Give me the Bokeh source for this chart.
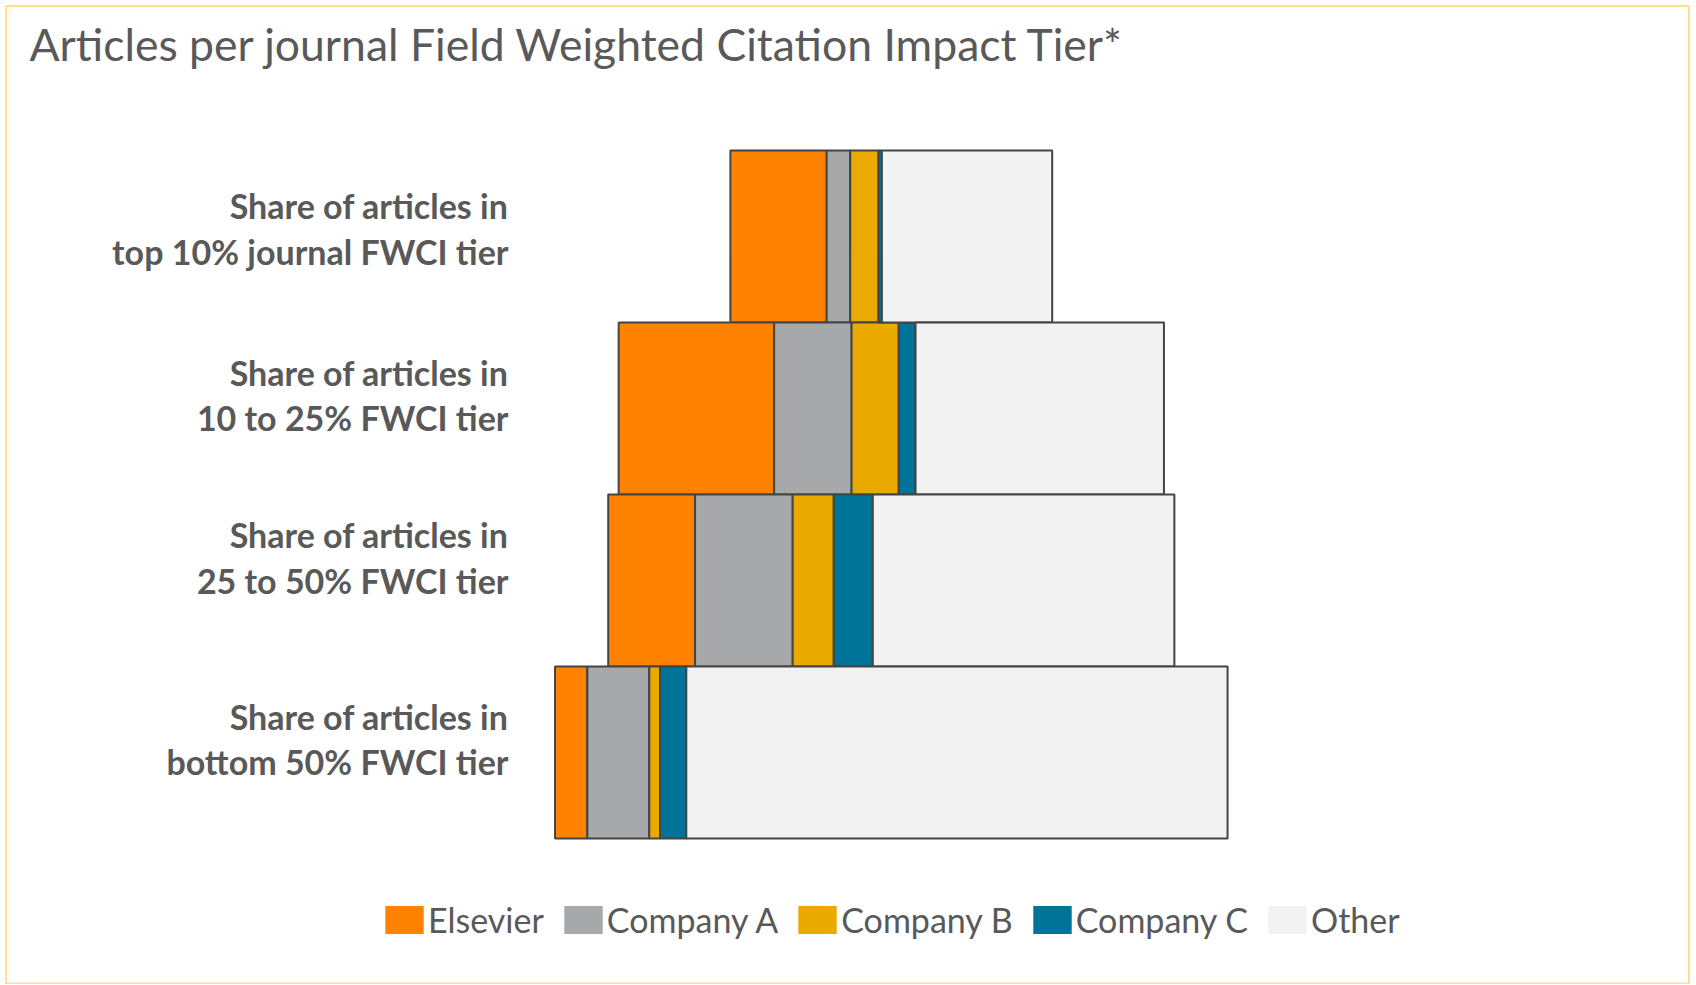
from bokeh.plotting import figure
from bokeh.models import Range1d, ColumnDataSource, Legend, LegendItem, Label, BoxAnnotation
from bokeh.core.properties import value
from bokeh.embed import file_html
from bokeh.resources import INLINE

# ---------------- data (relative article counts; bottom tier total = 100) -------------
categories = [
    "Share of articles in\ntop 10% journal FWCI tier",
    "Share of articles in\n10 to 25% FWCI tier",
    "Share of articles in\n25 to 50% FWCI tier",
    "Share of articles in\nbottom 50% FWCI tier",
]
series = ["Elsevier", "Company A", "Company B", "Company C", "Other"]
elsevier = [14.3, 23.1, 12.9, 4.8]
company_a = [3.5, 11.5, 14.5, 9.2]
company_b = [4.2, 7.0, 6.1, 1.6]
company_c = [0.5, 2.5, 5.8, 3.9]
other = [25.3, 36.9, 44.8, 80.4]
colors = ["#FF8300", "#A7A8AA", "#EAAA00", "#007398", "#F2F2F2"]
title_text = "Articles per journal Field Weighted Citation Impact Tier*"

# ---------------- layout -------------
W, H = 1692, 984
PX_X = 6.732          # pixels per data unit (x)
CX = 890.8            # canvas x of the bar centre line
PX_Y = 172.0          # pixels per category band
CY0 = 752.0           # canvas y of bottom category centre
NAN = float("nan")
label_nudge = [-8, -13.5, -23, -13.5]   # vertical pixel nudges of the category labels


def dx(px):
    return (px - CX) / PX_X


def dy(py):
    return (CY0 - py) / PX_Y


p = figure(width=W, height=H, output_backend="svg", toolbar_location=None,
           x_axis_type=None, y_axis_type=None,
           x_range=Range1d(dx(0), dx(W)), y_range=Range1d(dy(H), dy(0)),
           min_border=0, min_border_left=0, min_border_right=0,
           min_border_top=0, min_border_bottom=0)
p.background_fill_color = "white"
p.border_fill_color = "white"
p.outline_line_color = None
p.grid.visible = False

# chart-area border
p.add_layout(BoxAnnotation(left=dx(5.5), right=dx(1688.5), top=dy(5.5), bottom=dy(983),
                           fill_color=None, fill_alpha=0,
                           line_color="#FFE08C", line_width=2, line_alpha=1))

ys = list(range(len(categories) - 1, -1, -1))   # top category highest
values = [elsevier, company_a, company_b, company_c, other]
totals = [sum(v[i] for v in values) for i in range(len(categories))]

lefts = [-t / 2 for t in totals]
legend_items = []
for name, vals, col in zip(series, values, colors):
    rights = [l + v for l, v in zip(lefts, vals)]
    src = ColumnDataSource(dict(y=ys, left=lefts, right=rights))
    p.hbar(y="y", left="left", right="right", height=1.0, source=src,
           fill_color=col, line_color="#444444", line_width=2)
    # legend swatch (no outline, like the original)
    sw = p.rect(x=[NAN], y=[NAN], width=1, height=1, fill_color=col, line_color=None)
    legend_items.append(LegendItem(label=name, renderers=[sw]))
    lefts = rights

# category labels
lab_src = ColumnDataSource(dict(x=[dx(508)] * len(categories), y=ys,
                                text=categories, yo=label_nudge))
p.text(x="x", y="y", text="text", y_offset="yo", source=lab_src,
       text_align="right", text_baseline="middle",
       text_font=value("Lato"), text_font_style="bold",
       text_font_size="34px", text_color="#595959", text_line_height=1.1)

# title
p.add_layout(Label(x=dx(29), y=dy(43), text=title_text, text_font="Lato",
                   text_font_size="44.5px", text_color="#595959",
                   text_baseline="alphabetic"))

legend = Legend(items=legend_items, orientation="horizontal",
                location=(380, 44), glyph_width=48, glyph_height=35,
                label_standoff=0, spacing=15, padding=0, margin=0,
                border_line_color=None, background_fill_alpha=0,
                label_text_font="Lato", label_text_font_size="34px",
                label_text_color="#595959")
p.add_layout(legend)

open("out.html", "w").write(file_html(p, INLINE))
